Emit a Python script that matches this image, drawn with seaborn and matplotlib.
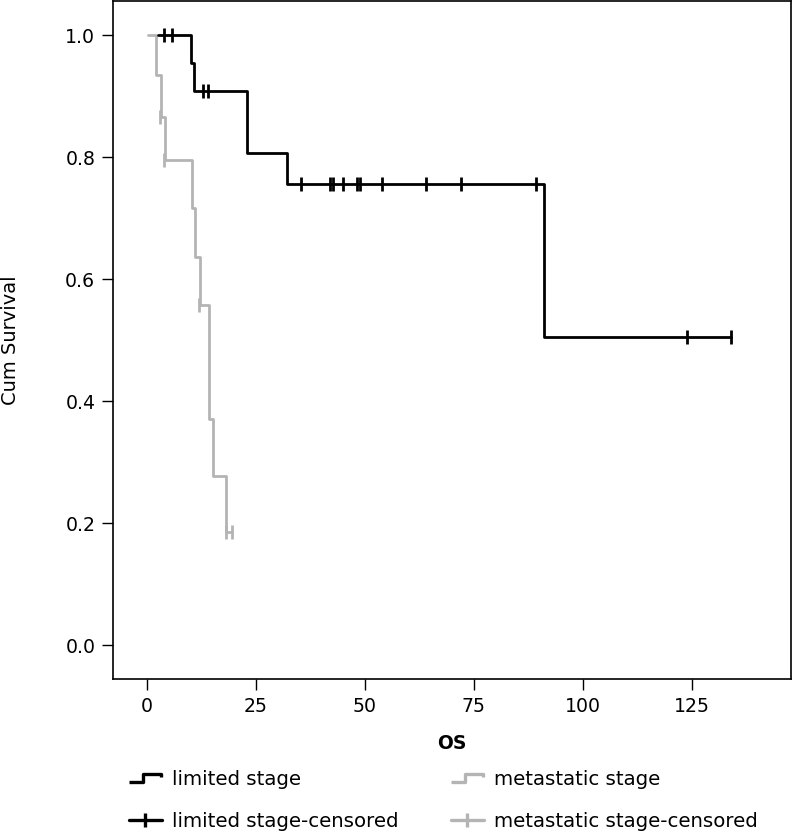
import numpy as np
import pandas as pd
import matplotlib
matplotlib.use("Agg")
import matplotlib.pyplot as plt
import seaborn as sns
from matplotlib.lines import Line2D
from matplotlib.path import Path

# Kaplan-Meier steps (time in months, cum survival)
limited_time = [2.6, 10.2, 10.9, 23.1, 32.1, 91.2, 134.0]
limited_surv = [1.0, 0.954, 0.909, 0.807, 0.756, 0.505, 0.505]
limited_cens_time = [4.0, 5.9, 13.0, 14.0, 35.3, 42.0, 42.8, 45.0, 48.2, 49.0,
                     54.0, 64.1, 72.1, 89.2, 123.9, 134.0]
limited_cens_surv = [1.0, 1.0, 0.909, 0.909, 0.756, 0.756, 0.756, 0.756, 0.756, 0.756,
                     0.756, 0.756, 0.756, 0.756, 0.505, 0.505]

meta_time = [0.2, 2.1, 3.3, 4.2, 10.3, 11.1, 12.2, 14.3, 15.3, 18.2, 19.5]
meta_surv = [1.0, 0.934, 0.866, 0.795, 0.716, 0.636, 0.557, 0.371, 0.278, 0.185, 0.185]
meta_cens_time = [3.0, 4.0, 12.1, 18.2, 19.5]
meta_cens_surv = [0.866, 0.795, 0.557, 0.185, 0.185]

x_ticks = [0, 25, 50, 75, 100, 125]
y_ticks = [0.0, 0.2, 0.4, 0.6, 0.8, 1.0]

BLACK = "#000000"
GRAY = "#b4b4b4"

sns.set_theme(style="ticks")
plt.rcParams['font.family'] = ['DejaVu Sans']
plt.rcParams['text.color'] = 'black'
plt.rcParams['axes.labelcolor'] = 'black'

curves = pd.concat([
    pd.DataFrame({"OS": limited_time, "surv": limited_surv, "group": "limited stage"}),
    pd.DataFrame({"OS": meta_time, "surv": meta_surv, "group": "metastatic stage"}),
])
cens = pd.concat([
    pd.DataFrame({"OS": limited_cens_time, "surv": limited_cens_surv, "group": "limited stage"}),
    pd.DataFrame({"OS": meta_cens_time, "surv": meta_cens_surv, "group": "metastatic stage"}),
])
palette = {"limited stage": BLACK, "metastatic stage": GRAY}

fig = plt.figure(figsize=(7.92, 8.34), dpi=100)
ax = fig.add_axes([113 / 792, 1 - 679.3 / 834, (790.7 - 113) / 792, 679.3 / 834 - 0.001])

# metastatic first so the black curve sits on top
for g in ["metastatic stage", "limited stage"]:
    sub = curves[curves.group == g]
    sns.lineplot(data=sub, x="OS", y="surv", color=palette[g], drawstyle="steps-post",
                 estimator=None, sort=False, linewidth=2.0, ax=ax, legend=False)
    csub = cens[cens.group == g]
    sns.scatterplot(data=csub, x="OS", y="surv", color=palette[g], marker="|", s=90,
                    linewidth=2.0, ax=ax, legend=False, zorder=3)

ax.set_xlim(-7.73, 147.7)
ax.set_ylim(-0.056, 1.056)
ax.set_xticks(x_ticks)
ax.set_yticks(y_ticks)
ax.set_yticklabels([f"{v:.1f}" for v in y_ticks])
ax.tick_params(axis="both", direction="out", length=7.7, width=1, colors="black",
               labelsize=13.6, pad=5)
for sp in ax.spines.values():
    sp.set_visible(True)
    sp.set_color("black")
    sp.set_linewidth(1.2)

ax.set_xlabel("OS", fontsize=13.5, fontweight="bold", color="black")
ax.xaxis.set_label_coords(0.5, -(734 - 679.3) / 679.3)
ax.set_ylabel("Cum Survival", fontsize=14, color="black")
ax.yaxis.set_label_coords(-(113 - 20) / 677.7, 0.5)

step_marker = Path([(-1.0, -0.25), (-0.1, -0.25), (-0.1, 0.25), (1.0, 0.25), (1.0, 0.05)],
                   [Path.MOVETO, Path.LINETO, Path.LINETO, Path.LINETO, Path.LINETO])


def handles_for(color):
    return [
        Line2D([], [], linestyle="none", marker=step_marker, markersize=23.5,
               markeredgewidth=2.4, markeredgecolor=color, markerfacecolor="none"),
        Line2D([], [], color=color, linewidth=2.4, marker="|", markersize=9.5,
               markeredgewidth=2.4),
    ]


leg_kw = dict(loc="upper left", frameon=False, fontsize=14.2, handlelength=1.65,
              handletextpad=0.55, labelspacing=1.15, borderaxespad=0, borderpad=0,
              labelcolor="black")
leg1 = fig.legend(handles_for(BLACK), ["limited stage", "limited stage-censored"],
                  bbox_to_anchor=(129 / 792, 1 - 770 / 834), **leg_kw)
leg2 = fig.legend(handles_for(GRAY), ["metastatic stage", "metastatic stage-censored"],
                  bbox_to_anchor=(451 / 792, 1 - 770 / 834), **leg_kw)

fig.savefig("out.png", dpi=100)
